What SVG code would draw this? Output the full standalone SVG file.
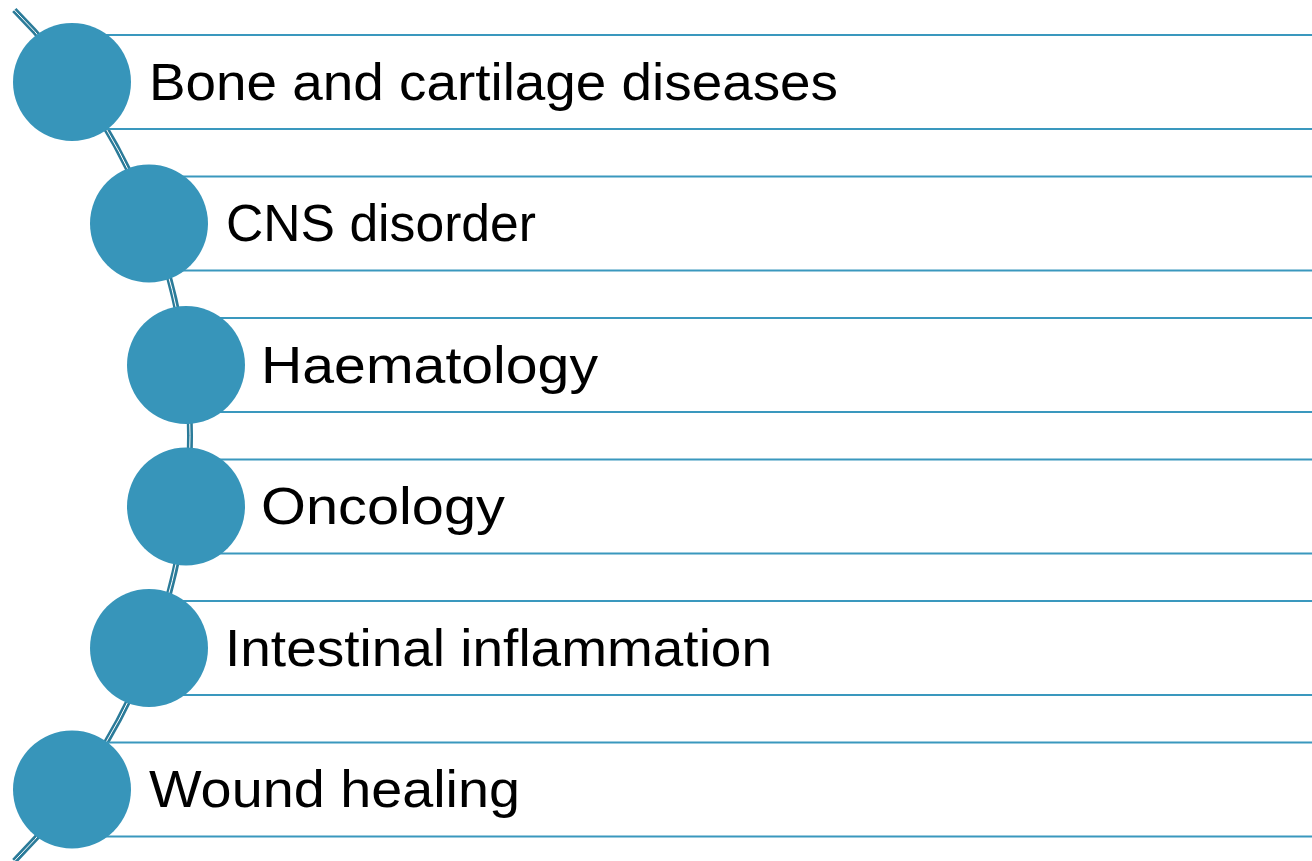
<svg xmlns="http://www.w3.org/2000/svg" width="1312" height="861" viewBox="0 0 1312 861">
<style>
.band{stroke:#3a98be;stroke-width:2;fill:none}
.dot{fill:#3795ba}
.lbl{font-family:"Liberation Sans","DejaVu Sans",Arial,sans-serif;font-size:52px;fill:#000000}
.arc{fill:none;stroke:#2b7b99;stroke-width:6}
.arcin{fill:none;stroke:#ffffff;stroke-width:1}
</style>
<rect width="1312" height="861" fill="#ffffff"/>
<g id="connectors">
<path class="arc" d="M 14.3 10 A 603 603 0 0 1 14.3 861"/>
<path class="arcin" d="M 14.3 10 A 603 603 0 0 1 14.3 861"/>
</g>
<g id="node1">
<line class="band" x1="72" y1="35" x2="1312" y2="35"/>
<line class="band" x1="72" y1="129" x2="1312" y2="129"/>
<circle class="dot" cx="72" cy="82" r="59"/>
<text class="lbl" x="149" y="99.5" textLength="689" lengthAdjust="spacingAndGlyphs">Bone and cartilage diseases</text>
</g>
<g id="node2">
<line class="band" x1="149" y1="176.5" x2="1312" y2="176.5"/>
<line class="band" x1="149" y1="270.5" x2="1312" y2="270.5"/>
<circle class="dot" cx="149" cy="223.5" r="59"/>
<text class="lbl" x="226" y="241" textLength="310" lengthAdjust="spacingAndGlyphs">CNS disorder</text>
</g>
<g id="node3">
<line class="band" x1="186" y1="318" x2="1312" y2="318"/>
<line class="band" x1="186" y1="412" x2="1312" y2="412"/>
<circle class="dot" cx="186" cy="365" r="59"/>
<text class="lbl" x="261" y="382.5" textLength="337" lengthAdjust="spacingAndGlyphs">Haematology</text>
</g>
<g id="node4">
<line class="band" x1="186" y1="459.5" x2="1312" y2="459.5"/>
<line class="band" x1="186" y1="553.5" x2="1312" y2="553.5"/>
<circle class="dot" cx="186" cy="506.5" r="59"/>
<text class="lbl" x="261" y="524" textLength="244" lengthAdjust="spacingAndGlyphs">Oncology</text>
</g>
<g id="node5">
<line class="band" x1="149" y1="601" x2="1312" y2="601"/>
<line class="band" x1="149" y1="695" x2="1312" y2="695"/>
<circle class="dot" cx="149" cy="648" r="59"/>
<text class="lbl" x="225" y="665.5" textLength="547" lengthAdjust="spacingAndGlyphs">Intestinal inflammation</text>
</g>
<g id="node6">
<line class="band" x1="72" y1="742.5" x2="1312" y2="742.5"/>
<line class="band" x1="72" y1="836.5" x2="1312" y2="836.5"/>
<circle class="dot" cx="72" cy="789.5" r="59"/>
<text class="lbl" x="149" y="806.5" textLength="371" lengthAdjust="spacingAndGlyphs">Wound healing</text>
</g>
</svg>
